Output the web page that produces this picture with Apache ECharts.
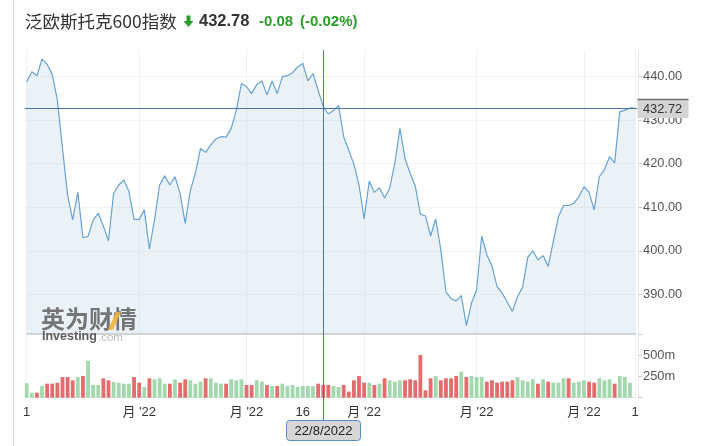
<!DOCTYPE html>
<html><head><meta charset="utf-8">
<script src="https://cdn.jsdelivr.net/npm/echarts@6/dist/echarts.min.js"></script>
<style>html,body{margin:0;padding:0;background:#fff;}#c{width:703px;height:446px;}</style>
</head><body><div id="c"></div>
<script>
// Trading days (June 1 – Nov 15, 2022)
const junDays = [1,2,3,6,7,8,9,10,13,14,15,16,17,20,21,22,23,24,27,28,29,30];
const julDays = [1,4,5,6,7,8,11,12,13,14,15,18,19,20,21,22,25,26,27,28,29];
const augDays = [1,2,3,4,5,8,9,10,11,12,15,16,17,18,19,22,23,24,25,26,29,30,31];
const sepDays = [1,2,5,6,7,8,9,12,13,14,15,16,19,20,21,22,23,26,27,28,29,30];
const octDays = [3,4,5,6,7,10,11,12,13,14,17,18,19,20,21,24,25,26,27,28,31];
const novDays = [1,2,3,4,7,8,9,10,11,14,15];
const dates = [].concat(
  junDays.map(d => d + '/6/2022'), julDays.map(d => d + '/7/2022'),
  augDays.map(d => d + '/8/2022'), sepDays.map(d => d + '/9/2022'),
  octDays.map(d => d + '/10/2022'), novDays.map(d => d + '/11/2022'));

// Closing prices
const prices = [
  438.8,441.1,440.2,444.0,442.8,440.5,434.6,423.5,412.8,407.1,
  413.4,403.0,403.3,407.1,408.6,405.6,402.3,413.2,415.1,416.3,
  413.6,407.2,407.2,409.4,400.4,407.1,415.1,417.2,415.1,417.0,
  413.2,406.3,413.8,417.9,423.5,422.6,424.3,425.7,426.2,426.1,
  428.1,432.3,438.4,437.7,436.1,438.2,439.0,435.8,439.0,436.1,
  440.0,440.2,440.9,442.2,443.0,439.0,440.7,436.9,433.1,431.4,
  432.2,433.4,426.2,423.1,419.9,415.1,407.3,416.0,413.4,414.5,
  412.1,414.4,420.1,428.1,421.2,417.8,414.9,408.4,408.0,403.4,
  407.3,400.2,390.6,389.0,388.5,389.7,382.8,388.0,391.0,403.4,
  399.1,396.5,391.8,390.3,388.2,386.1,389.5,391.6,398.5,400.0,
  397.9,398.9,396.4,402.1,407.8,410.4,410.4,410.9,412.4,414.7,
  413.4,409.4,417.0,418.6,421.6,420.2,431.9,432.3,432.8,432.72];

// Volume (millions) and up(1)/down(0) colouring
const volumes = [
  171,60,60,139,167,167,179,246,246,207,
  246,258,441,151,151,231,207,187,179,167,
  167,246,179,127,231,219,231,167,167,219,
  179,219,207,167,191,231,231,179,167,167,
  219,207,219,151,151,207,191,151,139,139,
  167,139,151,127,139,139,139,167,151,151,
  139,127,151,72,207,258,179,179,151,167,
  231,207,191,207,207,219,207,508,88,231,
  258,207,231,231,258,310,246,258,246,246,
  191,207,179,191,191,207,246,207,191,219,
  167,219,191,179,179,231,231,179,191,207,
  191,179,231,207,219,167,258,246,179,null];
const volUp = [
  1,1,0,1,0,0,0,0,0,0,
  1,0,1,1,1,0,0,1,1,1,
  1,0,0,1,0,1,1,1,0,1,
  0,0,1,1,1,0,1,1,1,0,
  1,1,1,0,0,1,1,0,1,0,
  1,1,1,1,1,1,1,0,0,0,
  1,1,0,0,0,0,0,1,0,1,
  0,1,1,1,0,0,0,0,0,0,
  1,0,0,0,0,1,0,1,1,1,
  0,0,0,0,0,0,1,1,1,1,
  0,1,0,1,1,1,0,1,1,1,
  0,0,1,1,1,0,1,1,1,0];

// Time-axis tick labels
const tickIdx  = [0, 22, 43, 54, 66, 88, 109, 119];
const tickText = ['1', "月 '22", "月 '22", '16', "月 '22", "月 '22", "月 '22", '1'];

const crossIdx = 58;
const lastPrice = 432.72;

const GREEN = '#a3d8af', RED = '#e46c6c';
const showTick = (i) => tickIdx.indexOf(i) >= 0;

const chart = echarts.init(document.getElementById('c'));
const GL = 26.7, GR = 703 - 635.1;
chart.setOption({
  animation: false,
  grid: [
    {left: GL, right: GR, top: 50, height: 284},
    {left: GL, right: GR, top: 334.7, height: 63}
  ],
  xAxis: [
    {type: 'category', gridIndex: 0, data: dates, boundaryGap: false,
     axisLine: {lineStyle: {color: '#c8c8c8', width: 1.5}},
     axisTick: {show: false}, axisLabel: {show: false},
     splitLine: {show: true, interval: showTick, lineStyle: {color: '#eef1f5'}}},
    {type: 'category', gridIndex: 1, data: dates, boundaryGap: false,
     axisLine: {lineStyle: {color: '#dde3ec'}},
     axisTick: {show: false},
     axisLabel: {interval: showTick, formatter: (v, i) => tickText[tickIdx.indexOf(i)] || '',
       color: '#333', fontSize: 13, margin: 8, fontFamily: '"Liberation Sans","Noto Sans CJK SC",sans-serif'},
     splitLine: {show: true, interval: showTick, lineStyle: {color: '#eef1f5'}}}
  ],
  yAxis: [
    {type: 'value', gridIndex: 0, position: 'right', min: 380.9, max: 446.1, offset: 3,
     axisLine: {show: true, lineStyle: {color: '#e3e8ef'}},
     axisTick: {show: true, length: 4, lineStyle: {color: '#c8c8c8'}},
     axisLabel: {formatter: v => v.toFixed(2), color: '#555', fontSize: 12.8, margin: 5,
       showMinLabel: false, showMaxLabel: false, fontFamily: '"Liberation Sans",sans-serif'},
     splitLine: {show: true, showMinLine: false, showMaxLine: false, lineStyle: {color: '#f1f3f6'}}},
    {type: 'value', gridIndex: 1, position: 'right', min: 0, max: 750, interval: 250, offset: 3,
     axisLine: {show: true, lineStyle: {color: '#e3e8ef'}},
     axisTick: {show: true, length: 4, lineStyle: {color: '#c8c8c8'}},
     axisLabel: {formatter: v => (v === 0 || v === 750) ? '' : v + 'm', color: '#555', fontSize: 12.8, margin: 5,
       fontFamily: '"Liberation Sans",sans-serif'},
     splitLine: {show: false}}
  ],
  series: [
    {type: 'line', xAxisIndex: 0, yAxisIndex: 0, data: prices, symbol: 'none',
     lineStyle: {color: '#68a2d4', width: 1.2},
     areaStyle: {origin: 'start', color: 'rgba(168,198,221,0.33)'}},
    {type: 'bar', xAxisIndex: 1, yAxisIndex: 1, barWidth: 3.8,
     data: volumes.map((v, i) => ({value: v, itemStyle: {color: volUp[i] ? GREEN : RED}}))}
  ]
});

const p = chart.convertToPixel({gridIndex: 0}, [dates[crossIdx], lastPrice]);
const cx = Math.round(p[0]) + 0.5, cy = Math.round(p[1]) + 0.5;
const CJK = '"Noto Sans CJK SC",sans-serif';
const LAT = '"Liberation Sans",Arial,sans-serif';
chart.setOption({
  graphic: [
    {type: 'line', shape: {x1: 13.5, y1: 0, x2: 13.5, y2: 446}, style: {stroke: '#dcdcdc', lineWidth: 1}, z: 1},
    // title
    {type: 'text', style: {text: '泛欧斯托克600指数', x: 25, y: 21, font: '17.5px ' + CJK, fill: '#333', textVerticalAlign: 'middle'}},
    {type: 'polygon', shape: {points: [[186.5,15.5],[190.5,15.5],[190.5,21],[193.5,21],[188.5,27],[183.5,21],[186.5,21]]}, style: {fill: '#2a9d2a'}},
    {type: 'text', style: {text: '432.78', x: 199, y: 21, font: 'bold 16.5px ' + LAT, fill: '#333', textVerticalAlign: 'middle'}},
    {type: 'text', style: {text: '-0.08', x: 259, y: 22, font: 'bold 15px ' + LAT, fill: '#2a9d2a', textVerticalAlign: 'middle'}},
    {type: 'text', style: {text: '(-0.02%)', x: 300, y: 22, font: 'bold 15px ' + LAT, fill: '#2a9d2a', textVerticalAlign: 'middle'}},
    // watermark
    {type: 'text', style: {text: '英为财情', x: 41, y: 319, font: 'bold 24px ' + CJK, fill: '#5f5f5f', opacity: 0.85, textVerticalAlign: 'middle'}, z: 5},
    {type: 'polygon', shape: {points: [[108,330],[113,330],[121,312],[116,312]]}, style: {fill: '#f3b43a', opacity: 0.9}, z: 6},
    {type: 'text', style: {text: 'Investing', x: 42, y: 337, font: 'bold 12.5px ' + LAT, fill: '#5f5f5f', textVerticalAlign: 'middle'}, z: 5},
    {type: 'text', style: {text: '.com', x: 98, y: 337.5, font: '11.5px ' + LAT, fill: '#bbb', textVerticalAlign: 'middle'}, z: 5},
    // crosshair
    {type: 'line', shape: {x1: cx, y1: 50, x2: cx, y2: 421}, style: {stroke: '#4a78b0', lineWidth: 1}, z: 20},
    {type: 'line', shape: {x1: 25, y1: cy, x2: 637, y2: cy}, style: {stroke: '#4a74a8', lineWidth: 1}, z: 20},
    {type: 'rect', shape: {x: cx - 37, y: 420.5, width: 74, height: 20, r: 3}, style: {fill: '#d6d6d6', stroke: '#5b8bc9', lineWidth: 1}, z: 21},
    {type: 'text', style: {text: dates[crossIdx], x: cx, y: 431, font: '13px ' + LAT, fill: '#222', textAlign: 'center', textVerticalAlign: 'middle'}, z: 22},
    {type: 'rect', shape: {x: 637.5, y: cy - 9.5, width: 51, height: 19}, style: {fill: '#d4d4d4'}, z: 21},
    {type: 'line', shape: {x1: 637.5, y1: cy - 9, x2: 688.5, y2: cy - 9}, style: {stroke: '#707070', lineWidth: 1.5}, z: 22},
    {type: 'text', style: {text: lastPrice.toFixed(2), x: 643, y: cy + 0.5, font: '12.8px ' + LAT, fill: '#333', textVerticalAlign: 'middle'}, z: 22}
  ]
});
</script></body></html>
